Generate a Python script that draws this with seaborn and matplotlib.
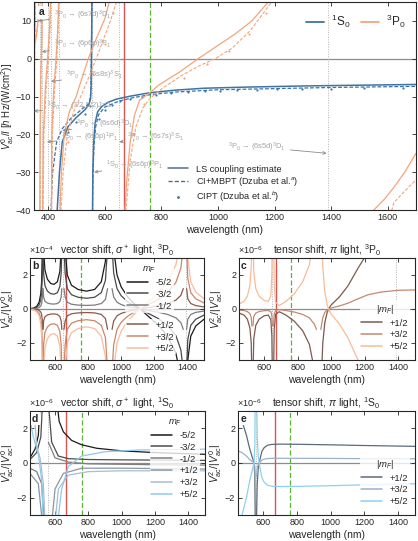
import numpy as np
import pandas as pd
import matplotlib
matplotlib.use('Agg')
import matplotlib.pyplot as plt
import seaborn as sns

sns.set_theme(style='ticks')
plt.rcParams['font.family'] = ['Liberation Sans', 'DejaVu Sans']
plt.rcParams['mathtext.fontset'] = 'custom'
plt.rcParams['mathtext.rm'] = 'Liberation Sans'
plt.rcParams['mathtext.it'] = 'Liberation Sans:italic'
plt.rcParams['mathtext.bf'] = 'Liberation Sans:bold'
plt.rcParams['font.size'] = 6.5
plt.rcParams['axes.linewidth'] = 0.8

# ---------------- panel a: scalar light shift V0/I (h Hz/(W/cm^2)) ----------------
# branches between poles, (wavelength nm, value)
s0_ls = [
    [(349.6, -45), (350.3, -20), (351, 0), (352, 18)],
    [(428, -45), (432, -40), (440, -30), (450, -22), (470, -18), (500, -15.5), (530, -13.5),
     (545, -12), (550, -10.5), (552, -7), (553, 0), (554, 8), (555, 20)],
    [(556.5, -45), (558, -30), (561, -22), (566, -17), (575, -14), (590, -12.6), (610, -11.6),
     (640, -10.7), (690, -9.9), (759, -9.0), (850, -8.3), (950, -7.8), (1100, -7.5),
     (1300, -7.2), (1500, -7.0), (1700, -6.8)],
]
s0_cimbpt = [
    [(350.2, -45), (351, -20), (351.8, 0), (352.8, 18)],
    [(405, -45), (410, -40), (416, -30), (430, -22), (450, -18.5), (480, -15.8), (520, -13.3),
     (545, -11.8), (551, -9), (553, 0), (554, 10), (555, 20)],
    [(556.5, -45), (558, -32), (562, -23), (568, -18), (578, -14.8), (600, -12.8), (650, -11.2),
     (700, -10.3), (760, -9.5), (850, -8.8), (1000, -8.2), (1200, -7.9), (1400, -7.6), (1700, -7.3)],
]
s0_cipt = [(470, -19.5), (500, -16.8), (530, -14.6), (548, -12.5), (580, -16), (600, -13.6),
           (625, -12.2), (655, -11.3), (690, -10.6), (730, -10.0), (780, -9.5), (835, -9.1),
           (895, -8.8), (954, -8.6), (1007, -8.4), (1068, -8.3), (1139, -8.2), (1210, -8.1),
           (1298, -8.0), (1398, -7.9), (1515, -7.8), (1654, -7.7)]

p0_ls = [
    [(350, 3), (358, 6), (364, 10), (368, 18)],
    [(370.3, -45), (371.5, -20), (374, -5), (377, 5), (379, 15), (379.7, 45)],
    [(380.5, -45), (383, -20), (390, -8), (398, 0), (405, 8), (409, 16), (410.7, 45)],
    [(411.3, -45), (413, -20), (420, -8), (428, 0), (434, 8), (437.5, 16), (438.8, 45)],
    [(439.5, -60), (442, -40), (447, -30), (457, -20), (475, -14), (499, -10), (520, -5),
     (542, 0), (560, 3.5), (580, 7), (600, 10.5), (616, 15), (630, 20), (645, 40)],
    [(651, -80), (660, -60), (668, -45), (677, -33), (690, -22), (705, -15), (723, -11),
     (759, -9), (794, -6.8), (865, -3.5), (930, 0), (1000, 3.5), (1060, 6.5), (1120, 10),
     (1178, 15), (1230, 22), (1290, 35), (1340, 60)],
    [(1530, -46), (1551, -40), (1590, -37), (1622, -34), (1660, -30), (1700, -25)],
]
p0_cimbpt = [
    [(351, 3), (359, 6), (365, 10), (369, 18)],
    [(371, -45), (372.5, -20), (375, -5), (378, 5), (379.5, 15), (379.9, 45)],
    [(381.5, -45), (385, -20), (393, -8), (401, 0), (407, 8), (410, 16), (410.9, 45)],
    [(412, -45), (415, -20), (423, -8), (431, 0), (436, 8), (438.5, 16), (438.9, 45)],
    [(441, -60), (446, -40), (453, -30), (468, -20), (490, -14), (515, -10), (543, -5),
     (570, 0), (595, 5), (620, 10), (641, 15), (648, 30)],
    [(652, -80), (665, -55), (675, -40), (690, -27), (710, -18), (735, -13), (760, -10.5),
     (800, -8), (870, -4.5), (936, -1.8), (990, 0), (1050, 2.8), (1114, 7.4), (1160, 12),
     (1192, 15.3), (1240, 22), (1300, 38)],
    [(1600, -44), (1622, -38), (1660, -35), (1700, -32)],
]
p0_cipt = [(470, -22), (520, -12.5), (560, -4), (600, 4), (630, 12), (700, -20), (740, -12),
           (800, -8.5), (880, -5), (960, -1.5), (1040, 2), (1110, 6.5), (1170, 12)]

# resonance positions (nm) and marker lines
poles_a = [370, 380, 399, 411, 439, 556, 649, 1389]
red_line = 668
magic_line = 759

# annotation texts: label, arrow tip (nm, value), text start (nm, value)
note_labels = [
    r'$^3$P$_0$ → (6s7d)$^3$D$_1$', r'$^3$P$_0$ → (6p6p)$^3$P$_1$', r'$^3$P$_0$ → (6s8s)$^3$S$_1$',
    r'$^1$S$_0$ → (7/2,5/2)J=1', r'$^3$P$_0$ → (6s6d)$^3$D$_1$', r'$^1$S$_0$ → (6s6p)$^1$P$_1$',
    r'$^3$P$_0$ → (6s7s)$^3$S$_1$', r'$^1$S$_0$ → (6s6p)$^3$P$_1$', r'$^3$P$_0$ → (6s5d)$^3$D$_1$',
]
note_tips = [(364, 10), (378, 1.8), (410, -6), (350, -13.9), (450, -19), (396, -22),
             (652, -22), (563, -30), (1384, -25)]
note_text = [(421, 11.6), (421, 3.9), (464, -4.5), (396, -12.6), (499, -17.4), (446, -20.8),
             (680, -20.8), (606, -28.2), (1036, -23.3)]

# ---------------- panel b: vector shift, sigma+ light, 3P0 (x1e-4), mF = -5/2 profile ----------------
mf_vec = ['-5/2', '-3/2', '-1/2', '+1/2', '+3/2', '+5/2']
mf_vec_scale = [1.0, 0.6, 0.2, -0.2, -0.6, -1.0]
vec_p0 = [
    [(450, 0.02), (470, 0.05), (490, 0.15), (505, 0.4), (515, 0.9), (520, 1.6), (524, 3.2), (526, 6)],
    [(529, 6), (532, 3.5), (540, 2.3), (555, 1.75), (575, 1.5), (595, 1.45), (615, 1.6),
     (630, 2.2), (638, 3.5), (642, 6)],
    [(655, 6), (662, 3.5), (675, 2.0), (700, 1.4), (740, 1.15), (790, 1.05), (840, 1.15),
     (880, 1.6), (905, 2.8), (918, 6)],
    [(945, 6), (955, 3.5), (975, 2.0), (1000, 1.3), (1040, 0.7), (1080, 0.3), (1115, 0),
     (1160, -0.4), (1220, -0.9), (1280, -1.6), (1330, -2.6), (1360, -4), (1375, -6)],
    [(1395, -6), (1402, -3.0), (1420, -1.6), (1450, -1.0), (1500, -0.6)],
]
vec_p0_colors = ['#1a1a1a', '#4a4a4a', '#7d7d7d', '#8a5a4c', '#c9876c', '#f6bc9e']

# ---------------- panel c: tensor shift, pi light, 3P0 (x1e-6), |mF| = 5/2 profile ----------------
mf_ten = ['+1/2', '+3/2', '+5/2']
mf_ten_scale = [-0.8, -0.2, 1.0]
ten_p0 = [
    [(450, 0.3), (480, 0.45), (500, 0.75), (515, 1.4), (523, 2.5), (527, 5)],
    [(533, 5), (538, 2.2), (550, 1.2), (570, 0.75), (600, 0.5), (625, 0.45), (640, 0.8),
     (646, 2.0), (649, 5)],
    [(656, 5), (660, 1.5), (668, 0.4), (690, 0.2), (730, 0.45), (780, 0.9), (830, 1.6),
     (870, 2.6), (900, 4.5), (912, 6)],
    [(938, 6), (950, 2.5), (962, 1.0), (975, 0.3), (985, 0), (1000, -0.3), (1050, -0.9),
     (1100, -1.7), (1160, -3.0), (1220, -4.2), (1300, -5.0), (1400, -5.5), (1500, -5.6)],
]
ten_p0_colors = ['#7b5a50', '#c28a70', '#f7bc97']

# ---------------- panel d: vector shift, sigma+ light, 1S0 (x1e-6) ----------------
vec_s0 = {
    '-5/2': [[(450, 0.3), (480, 0.8), (500, 1.6), (510, 3.5)],
             [(612, 3.5), (625, 2.4), (650, 1.8), (700, 1.3), (760, 1.05), (850, 0.85),
              (1000, 0.7), (1200, 0.6), (1500, 0.5)]],
    '-3/2': [[(450, 0.2), (490, 0.6), (515, 1.5), (525, 3.5)],
             [(560, 3.5), (580, 1.2), (620, 0.4), (680, 0.25), (800, 0.2), (1000, 0.18), (1500, 0.15)]],
    '-1/2': [[(450, -0.3), (490, -0.5), (520, -1.2), (535, -3.5)],
             [(560, 1.2), (600, 0.3), (680, 0.05), (800, -0.05), (1200, -0.1), (1500, -0.12)]],
    '+1/2': [[(450, -0.6), (500, -1.2), (525, -3.5)],
             [(580, -3.5), (600, -1.5), (650, -0.6), (760, -0.3), (1000, -0.3), (1500, -0.35)]],
    '+3/2': [[(470, 3.5), (490, 1.0), (510, 0.3), (530, -1.2), (540, -3.5)],
             [(600, -3.5), (620, -1.5), (680, -0.7), (800, -0.5), (1000, -0.45), (1500, -0.45)]],
    '+5/2': [[(450, 2.5), (470, 1.5), (500, 0.5), (520, -1.0), (530, -3.5)],
             [(615, -3.5), (640, -1.5), (680, -0.2), (760, 0.4), (900, 0.65), (1100, 0.75), (1500, 0.8)]],
}
vec_s0_colors = ['#1a1a1a', '#4d4d4d', '#7e7e7e', '#8996a3', '#a8bdd0', '#8ccbee']

# ---------------- panel e: tensor shift, pi light, 1S0 (x1e-6), |mF| = 5/2 profile ----------------
ten_s0 = [
    [(450, -3.5), (474, -3.0), (500, -2.0), (520, -1.0), (535, -0.4), (545, 0), (550, 1), (552, 4)],
    [(560, 4), (564, 1.5), (570, 0.4), (576, 0), (583, -0.4), (592, -0.85), (605, -1.1),
     (625, -1.28), (650, -1.34), (700, -1.36), (800, -1.35), (1000, -1.31), (1200, -1.26), (1500, -1.2)],
]
ten_s0_colors = ['#5b6b79', '#9cb2c6', '#8fd0f2']

blue = '#3d74a5'
orange = '#f4a57b'
gray_txt = '#a3a3a3'
dot_gray = '#b4b4b4'


def draw(ax, branches, scale=1.0, **kw):
    for br in branches:
        d = pd.DataFrame(br, columns=['wl', 'v'])
        d['v'] = d['v'] * scale
        sns.lineplot(data=d, x='wl', y='v', ax=ax, sort=False, estimator=None, **kw)


def style(ax, xlim, ylim):
    ax.set_xlim(*xlim)
    ax.set_ylim(*ylim)
    ax.tick_params(direction='in', top=True, right=True, length=3, width=0.6, labelsize=6.5, pad=2)
    ax.axhline(0, color='#8c8c8c', lw=0.9, zorder=0)


def panel_label(ax, s):
    ax.text(0.012, 0.975, s, transform=ax.transAxes, ha='left', va='top', fontsize=7.5,
            fontweight='bold', bbox=dict(facecolor='white', edgecolor='none', pad=1.0), zorder=10)


fig = plt.figure(figsize=(4.18, 5.41), dpi=100)

# ---- panel a ----
ax = fig.add_axes([0.0813, 0.6118, 0.9139, 0.3845])
style(ax, (350, 1700), (-40, 15))
for p in poles_a:
    ax.axvline(p, color=dot_gray, lw=0.7, ls=(0, (1, 1.5)), zorder=0)
ax.axvline(red_line, color='#d9534f', lw=1.0, zorder=1)
ax.axvline(magic_line, color='#5cb531', lw=0.9, ls=(0, (4, 2)), zorder=1)
draw(ax, s0_ls, color=blue, lw=1.1)
draw(ax, s0_cimbpt, color=blue, lw=0.9, ls=(0, (3, 1.5)))
draw(ax, p0_ls, color=orange, lw=0.9)
draw(ax, p0_cimbpt, color=orange, lw=0.8, ls=(0, (3, 1.5)))
d = pd.DataFrame(s0_cipt, columns=['wl', 'v'])
sns.scatterplot(data=d, x='wl', y='v', ax=ax, color=blue, s=2.5, linewidth=0)
d = pd.DataFrame(p0_cipt, columns=['wl', 'v'])
sns.scatterplot(data=d, x='wl', y='v', ax=ax, color=orange, s=2.5, linewidth=0)
ax.set_yticks([-40, -30, -20, -10, 0, 10])
ax.set_xticks([400, 600, 800, 1000, 1200, 1400, 1600])
ax.set_xlabel('wavelength (nm)', fontsize=7.5, labelpad=2)
ax.set_ylabel(r'$V^0_{\rm ac}/I$ [$h$ Hz/(W/cm$^2$)]', fontsize=7, labelpad=0)
panel_label(ax, 'a')

h1 = [plt.Line2D([], [], color=blue, lw=1.3), plt.Line2D([], [], color=orange, lw=1.3)]
leg1 = ax.legend(h1, [r'$^1$S$_0$', r'$^3$P$_0$'], ncol=2, loc='upper right', frameon=False,
                 fontsize=8.5, handlelength=1.5, columnspacing=0.9, handletextpad=0.6,
                 bbox_to_anchor=(1.0, 1.0))
ax.add_artist(leg1)
lc = '#4f6f8f'
h2 = [plt.Line2D([], [], color=lc, lw=1.1),
      plt.Line2D([], [], color=lc, lw=1.0, ls=(0, (3, 1.5))),
      plt.Line2D([], [], color=lc, lw=0, marker='.', ms=2)]
ax.legend(h2, ['LS coupling estimate', r'CI+MBPT (Dzuba et al.$^a$)', r'CIPT (Dzuba et al.$^b$)'],
          loc='lower left', bbox_to_anchor=(0.33, -0.01), frameon=False, fontsize=6.6,
          handlelength=2.2, labelspacing=0.15)

arr = dict(arrowstyle='->', color='#8a8a8a', lw=0.6, shrinkA=1, shrinkB=0, mutation_scale=5)
for txt, tip, pos in zip(note_labels, note_tips, note_text):
    ax.annotate(txt, xy=tip, xytext=pos, arrowprops=arr, color=gray_txt, fontsize=5.4,
                ha='left', va='center')


def legend_box(ax, handles, labels, title, loc, anchor):
    lg = ax.legend(handles, labels, title=title, loc=loc, bbox_to_anchor=anchor, fontsize=6.8,
                   title_fontsize=6.8, frameon=True, framealpha=0.8, edgecolor='none',
                   handlelength=2.2, labelspacing=0.3, borderpad=0.2, handletextpad=0.8)
    lg.get_frame().set_linewidth(0)
    return lg


def small_panel(rect, title, offs, ylab, lab):
    ax = fig.add_axes(rect)
    style(ax, (450, 1500), (-3, 3))
    ax.set_yticks([-2, 0, 2])
    ax.set_xticks([600, 800, 1000, 1200, 1400])
    ax.set_xlabel('wavelength (nm)', fontsize=7.5, labelpad=2)
    ax.set_ylabel(ylab, fontsize=7.5, labelpad=1)
    ax.set_title(title, fontsize=7.5, pad=3)
    ax.text(-0.005, 1.02, offs, transform=ax.transAxes, ha='left', va='bottom', fontsize=6.5)
    ax.axvline(red_line, color='#d9534f', lw=1.0, zorder=1)
    ax.axvline(magic_line, color='#5cb531', lw=0.9, ls=(0, (4, 2)), zorder=1)
    panel_label(ax, lab)
    return ax


# ---- panel b ----
ax = small_panel([0.0718, 0.3346, 0.4163, 0.1885], r'vector shift, $\sigma^+$ light, $^3$P$_0$',
                 r'×10$^{-4}$', r'$V^1_{\rm ac}/|V^0_{\rm ac}|$', 'b')
ax.axvline(649, color=dot_gray, lw=0.7, ls=(0, (1, 1.5)), zorder=0)
ax.axvline(1389, color=dot_gray, lw=0.7, ls=(0, (1, 1.5)), zorder=0)
hs = []
for name, sc, col in zip(mf_vec, mf_vec_scale, vec_p0_colors):
    draw(ax, vec_p0, scale=sc, color=col, lw=0.9)
    hs.append(plt.Line2D([], [], color=col, lw=1.1))
lg = legend_box(ax, hs[:3], mf_vec[:3], r'$m_F$', 'upper left', (0.52, 1.0))
ax.add_artist(lg)
legend_box(ax, hs[3:], mf_vec[3:], None, 'lower left', (0.52, 0.0))

# ---- panel c ----
ax = small_panel([0.5718, 0.3346, 0.421, 0.1885], r'tensor shift, $\pi$ light, $^3$P$_0$',
                 r'×10$^{-6}$', r'$V^2_{\rm ac}/|V^0_{\rm ac}|$', 'c')
ax.axvline(649, color=dot_gray, lw=0.7, ls=(0, (1, 1.5)), zorder=0)
ax.axvline(1389, color=dot_gray, lw=0.7, ls=(0, (1, 1.5)), zorder=0)
hs = []
for name, sc, col in zip(mf_ten, mf_ten_scale, ten_p0_colors):
    draw(ax, ten_p0, scale=sc, color=col, lw=0.9)
    hs.append(plt.Line2D([], [], color=col, lw=1.1))
legend_box(ax, hs, mf_ten, r'$|m_F|$', 'lower right', (1.0, 0.02))

# ---- panel d ----
ax = small_panel([0.0718, 0.0481, 0.4187, 0.1922], r'vector shift, $\sigma^+$ light, $^1$S$_0$',
                 r'×10$^{-6}$', r'$V^1_{\rm ac}/|V^0_{\rm ac}|$', 'd')
ax.axvline(556, color=dot_gray, lw=0.7, ls=(0, (1, 1.5)), zorder=0)
hs = []
for name, col in zip(mf_vec, vec_s0_colors):
    draw(ax, vec_s0[name], color=col, lw=0.9)
    hs.append(plt.Line2D([], [], color=col, lw=1.1))
legend_box(ax, hs, mf_vec, r'$m_F$', 'upper right', (1.0, 1.0))

# ---- panel e ----
ax = small_panel([0.5694, 0.0481, 0.4234, 0.1922], r'tensor shift, $\pi$ light, $^1$S$_0$',
                 r'×10$^{-6}$', r'$V^2_{\rm ac}/|V^0_{\rm ac}|$', 'e')
ax.axvline(556, color=dot_gray, lw=0.7, ls=(0, (1, 1.5)), zorder=0)
hs = []
for name, sc, col in zip(mf_ten, mf_ten_scale, ten_s0_colors):
    draw(ax, ten_s0, scale=sc, color=col, lw=0.9)
    hs.append(plt.Line2D([], [], color=col, lw=1.1))
legend_box(ax, hs, mf_ten, r'$|m_F|$', 'lower right', (1.0, 0.02))

fig.savefig('out.png', dpi=100)
